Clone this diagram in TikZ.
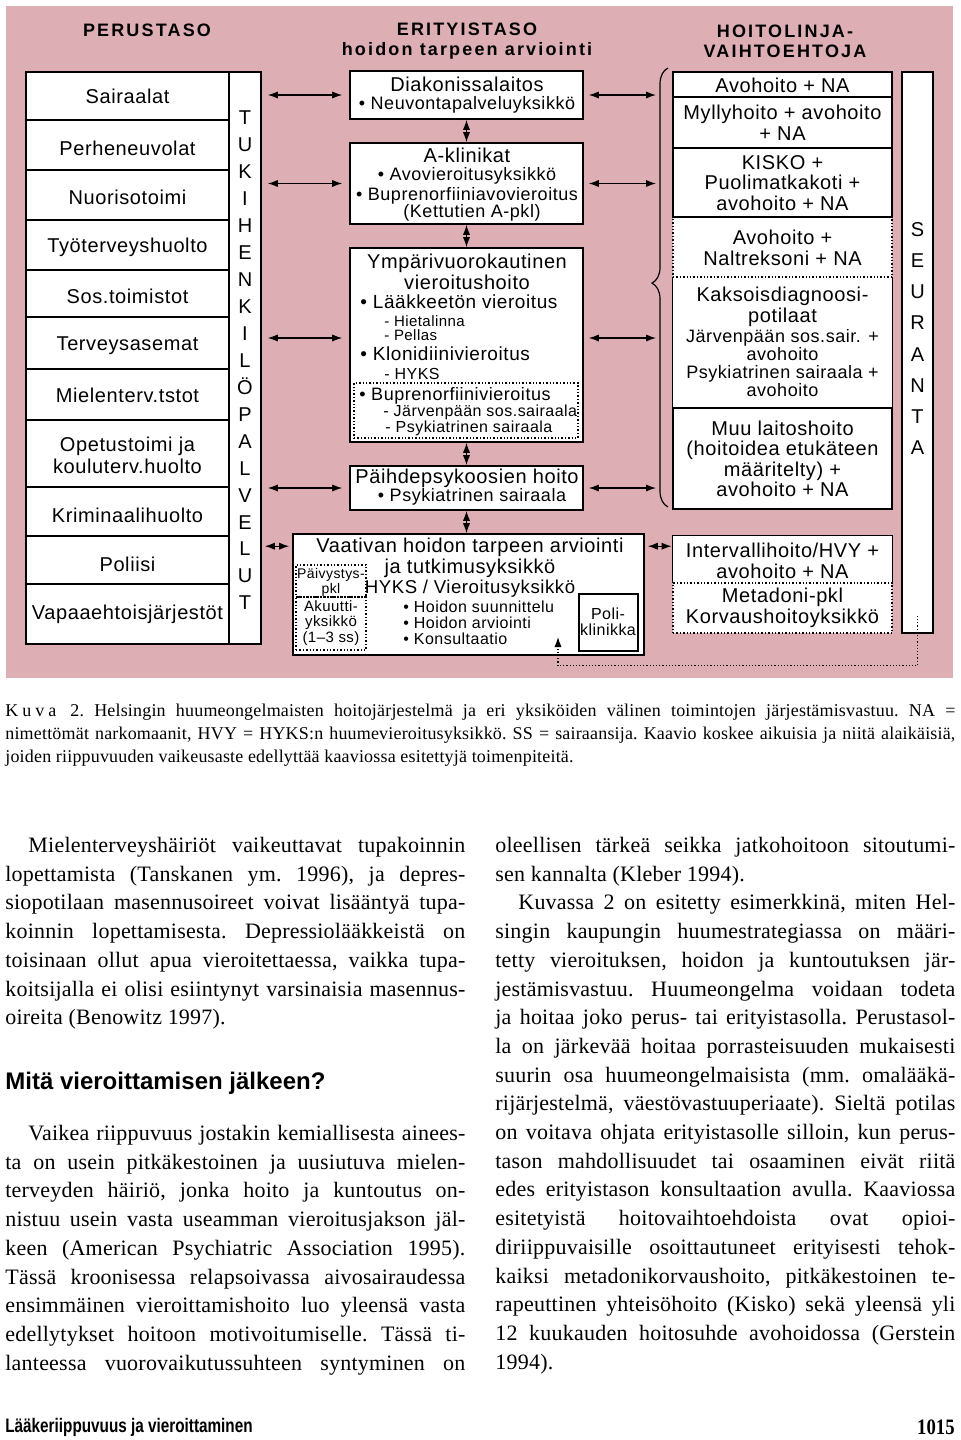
\documentclass[tikz,border=0pt]{standalone}
\usepackage{fontspec}
\setmainfont[LetterSpace=1]{Liberation Serif}
\newfontfamily\dfont[LetterSpace=3]{Liberation Sans}
\newfontfamily\hfont[LetterSpace=12]{Liberation Sans}
\newfontfamily\gfont{Liberation Sans}
\newfontfamily\cfont[FakeStretch=0.78]{Liberation Sans}
\newfontfamily\nfont[FakeStretch=0.85]{Liberation Serif}
\usetikzlibrary{calc, fit, positioning, arrows.meta, decorations.pathreplacing}
\definecolor{rosa}{RGB}{221,175,181}
\tolerance=10000
\hyphenpenalty=10000
\parindent=0pt
\parskip=0pt
\tikzset{
    boxnode/.style = {draw, rectangle, fill=white, inner sep=0pt, line width=0.8pt},
    openbox/.style = {rectangle, fill=white, inner sep=0pt},
    dotbox/.style = {draw, densely dotted, rectangle, inner sep=0pt, line width=0.7pt},
    textnode/.style = {draw=none, fill=none, rectangle, inner sep=0pt, align=center,
      font=\dfont\fontsize{10}{10.25}\selectfont},
    rowtext/.style = {textnode, font=\dfont\fontsize{10}{11}\selectfont},
    subnode/.style = {textnode, font=\dfont\fontsize{9}{9.5}\selectfont},
    tinynode/.style = {textnode, font=\dfont\fontsize{8}{8}\selectfont},
    headnode/.style = {textnode, font=\hfont\bfseries\fontsize{9}{10}\selectfont},
    bodynode/.style = {inner sep=0pt, anchor=north west, text width=230pt, align=justify,
      font=\fontsize{11}{14.35}\selectfont\frenchspacing},
    connect/.style = {<->, line width=0.6pt},
    dotconnect/.style = {->, densely dotted, line width=0.6pt},
    >={Latex[length=5pt, width=3.6pt]}
}

\begin{document}
\begin{tikzpicture}[x=0.5pt, y=-0.5pt]
    \useasboundingbox (0,0) rectangle (960,1440);
    \fill[white] (0,0) rectangle (960,1440);
    \fill[rosa] (6,6) rectangle (953,678);

    % column headers
    \node [name=perus, headnode] at (147,30) {PERUSTASO};
    \node [name=erit, headnode] at (467,41) {ERITYISTASO\\hoidon tarpeen arviointi};
    \node [name=hoito, headnode] at (785,41) {HOITOLINJA-\\VAIHTOEHTOJA};

    % perustaso
    \node [name=r1, boxnode, fit={(26,72) (229,120)}] {};
    \node [name=r2, boxnode, fit={(26,120) (229,170)}] {};
    \node [name=r3, boxnode, fit={(26,170) (229,220)}] {};
    \node [name=r4, boxnode, fit={(26,220) (229,270)}] {};
    \node [name=r5, boxnode, fit={(26,270) (229,317)}] {};
    \node [name=r6, boxnode, fit={(26,317) (229,369)}] {};
    \node [name=r7, boxnode, fit={(26,369) (229,420)}] {};
    \node [name=r8, boxnode, fit={(26,420) (229,487)}] {};
    \node [name=r9, boxnode, fit={(26,487) (229,536)}] {};
    \node [name=r10, boxnode, fit={(26,536) (229,584)}] {};
    \node [name=r11, boxnode, fit={(26,584) (229,644)}] {};
    \node [name=r1T, rowtext] at (127.5,96) {Sairaalat};
    \node [name=r2T, rowtext] at (127.5,148) {Perheneuvolat};
    \node [name=r3T, rowtext] at (127.5,197) {Nuorisotoimi};
    \node [name=r4T, rowtext] at (127.5,247) {Työterveyshuolto};
    \node [name=r5T, rowtext] at (127.5,296) {Sos.toimistot};
    \node [name=r6T, rowtext] at (127.5,346) {Terveysasemat};
    \node [name=r7T, rowtext] at (127.5,395) {Mielenterv.tstot};
    \node [name=r8T, rowtext] at (127.5,455) {Opetustoimi ja\\kouluterv.huolto};
    \node [name=r9T, rowtext] at (127.5,515) {Kriminaalihuolto};
    \node [name=r10T, rowtext] at (127.5,564) {Poliisi};
    \node [name=r11T, rowtext] at (127.5,614) {Vapaaehtoisjärjestöt};
    \node [name=tuki, boxnode, fit={(229,72) (261,644)}] {};
    \node [name=tukiT, textnode, font=\dfont\fontsize{10}{13.47}\selectfont] at (245,360.5)
        {T\\U\\K\\I\\H\\E\\N\\K\\I\\L\\Ö\\P\\A\\L\\V\\E\\L\\U\\T};

    % erityistaso
    \node [name=diak, boxnode, fit={(350,71) (583,119)}] {};
    \node [name=diakT, textnode] at (467,84) {Diakonissalaitos};
    \node [name=diakS, subnode] at (467,105) {• Neuvontapalveluyksikkö};

    \node [name=akl, boxnode, fit={(350,143) (583,224)}] {};
    \node [name=aklT, textnode] at (467,155) {A-klinikat};
    \node [name=aklS1, subnode] at (467,176) {• Avovieroitusyksikkö};
    \node [name=aklS2, subnode] at (467,196) {• Buprenorfiiniavovieroitus};
    \node [name=aklS3, subnode] at (472,213) {(Kettutien A-pkl)};

    \node [name=ymp, boxnode, fit={(350,248) (583,442)}] {};
    \node [name=bupbox, dotbox, fit={(354,383) (578,438)}] {};
    \node [name=ympT, textnode] at (467,272) {Ympärivuorokautinen\\vieroitushoito};
    \node [name=laak, subnode, anchor=west, font=\dfont\fontsize{9.5}{10}\selectfont] at (360,302) {• Lääkkeetön vieroitus};
    \node [name=hiet, tinynode, anchor=west, font=\dfont\fontsize{7.5}{7}\selectfont] at (384,321) {- Hietalinna};
    \node [name=pell, tinynode, anchor=west, font=\dfont\fontsize{7.5}{7}\selectfont] at (384,335) {- Pellas};
    \node [name=klon, subnode, anchor=west, font=\dfont\fontsize{9.5}{10}\selectfont] at (360,354) {• Klonidiinivieroitus};
    \node [name=hyks, tinynode, anchor=west] at (384,374) {- HYKS};
    \node [name=bupr, subnode, anchor=west] at (359,396) {• Buprenorfiinivieroitus};
    \node [name=jarv, tinynode, anchor=west] at (383,412) {- Järvenpään sos.sairaala};
    \node [name=psyk, tinynode, anchor=west] at (385,428) {- Psykiatrinen sairaala};

    \node [name=paih, boxnode, fit={(350,466) (583,510)}] {};
    \node [name=paihT, textnode] at (467,478) {Päihdepsykoosien hoito};
    \node [name=paihS, subnode] at (472,497) {• Psykiatrinen sairaala};

    \node [name=vaat, boxnode, fit={(293,534) (644,655)}] {};
    \node [name=vaatT, textnode] at (470,558) {Vaativan hoidon tarpeen arviointi\\ja tutkimusyksikkö};
    \node [name=vaatS, textnode, font=\dfont\fontsize{9.3}{10}\selectfont] at (470,589) {HYKS / Vieroitusyksikkö};
    \node [name=pvk, dotbox, fit={(296,565) (366,597)}] {};
    \node [name=aku, dotbox, fit={(296,597) (366,650)}] {};
    \node [name=pvkT, tinynode, font=\dfont\fontsize{7}{7.5}\selectfont] at (331,582) {Päivystys-\\pkl};
    \node [name=akuT, tinynode, font=\dfont\fontsize{7.5}{7.9}\selectfont] at (331,623) {Akuutti-\\yksikkö\\(1–3 ss)};
    \node [name=poli, boxnode, line width=0.7pt, fit={(579,594) (638,651)}] {};
    \node [name=poliT, tinynode] at (608,622) {Poli-\\klinikka};
    \node [name=hsuun, tinynode, anchor=west] at (403,607) {• Hoidon suunnittelu};
    \node [name=harv, tinynode, anchor=west] at (403,623) {• Hoidon arviointi};
    \node [name=kons, tinynode, anchor=west] at (403,639) {• Konsultaatio};

    % hoitolinjat
    \node [name=avo1, boxnode, fit={(673,72) (892,97)}] {};
    \node [name=mylly, boxnode, fit={(673,97) (892,148)}] {};
    \node [name=kaks, openbox, fit={(673,277) (892,408)}] {};
    \draw [line width=0.8pt] (kaks.north west) -- (kaks.south west) -- (kaks.south east) -- (kaks.north east);
    \node [name=muu, boxnode, fit={(673,408) (892,509)}] {};
    \node [name=nalt, dotbox, fill=white, fit={(673,217) (892,277)}] {};
    \node [name=kisko, boxnode, fit={(673,148) (892,217)}] {};
    \node [name=intv, openbox, fit={(673,536) (892,583)}] {};
    \draw [line width=0.8pt] (intv.south west) -- (intv.north west) -- (intv.north east) -- (intv.south east);
    \node [name=meta, dotbox, fill=white, fit={(673,583) (892,633)}] {};

    \node [name=avo1T, textnode] at (782.5,85) {Avohoito + NA};
    \node [name=myllyT, textnode] at (782.5,123) {Myllyhoito + avohoito\\+ NA};
    \node [name=kiskoT, textnode] at (782.5,183) {KISKO +\\Puolimatkakoti +\\avohoito + NA};
    \node [name=naltT, textnode] at (782.5,248) {Avohoito +\\Naltreksoni + NA};
    \node [name=kaksT, textnode] at (782.5,307) {Kaksoisdiagnoosi-\\potilaat};
    \node [name=kaksS, subnode, font=\dfont\fontsize{9}{9}\selectfont] at (782.5,363)
        {Järvenpään sos.sair. +\\avohoito\\Psykiatrinen sairaala +\\avohoito};
    \node [name=muuT, textnode] at (782.5,459) {Muu laitoshoito\\(hoitoidea etukäteen\\määritelty) +\\avohoito + NA};
    \node [name=intvT, textnode] at (782.5,561) {Intervallihoito/HVY +\\avohoito + NA};
    \node [name=metaT, textnode] at (782.5,608) {Metadoni-pkl\\Korvaushoitoyksikkö};

    \node [name=seur, boxnode, fit={(902,72) (933,633)}] {};
    \node [name=seurT, textnode, font=\dfont\fontsize{10}{15.64}\selectfont] at (917.5,338.5)
        {S\\E\\U\\R\\A\\N\\T\\A};

    % brace and connectors
    \draw [decorate, decoration={brace, amplitude=8pt, aspect=0.51}, line width=0.6pt] (668,507) -- (668,68);
    \coordinate (brc) at (656,0);
    \coordinate (ya) at ([yshift=3.5pt]ymp.west);
    \coordinate (yb) at ([yshift=3.5pt]ymp.east);
    \coordinate (yv) at ($(vaat.north west)+(0,13)$);
    \coordinate (tip) at (558,637);

    \draw [connect, shorten <=3pt, shorten >=3.5pt] (tuki.east |- diak.west) -- (diak.west);
    \draw [connect, shorten <=3pt, shorten >=3.5pt] (tuki.east |- akl.west) -- (akl.west);
    \draw [connect, shorten <=3pt, shorten >=3.5pt] (tuki.east |- ya) -- (ya);
    \draw [connect, shorten <=3pt, shorten >=3.5pt] (tuki.east |- paih.west) -- (paih.west);
    \draw [connect, shorten <=1.5pt, shorten >=1.5pt] (tuki.east |- yv) -- (yv);

    \draw [connect, shorten <=2.5pt] (diak.east) -- (brc |- diak.east);
    \draw [connect, shorten <=2.5pt] (akl.east) -- (brc |- akl.east);
    \draw [connect, shorten <=2.5pt] (yb) -- (brc |- yb);
    \draw [connect, shorten <=2.5pt] (paih.east) -- (brc |- paih.east);
    \draw [connect, shorten <=1.5pt, shorten >=0.5pt] (vaat.east |- yv) -- (intv.west |- yv);

    \draw [connect] (diak.south) -- (akl.north);
    \draw [connect] (akl.south) -- (ymp.north);
    \draw [connect] (ymp.south) -- (paih.north);
    \draw [connect] (paih.south) -- (paih.south |- vaat.north);

    \draw [dotconnect] ([yshift=9pt]seur.south) -- ([yshift=-16pt]seur.south) -| (tip);

    % caption and text
    \node [name=caption, bodynode, text width=475pt, font=\fontsize{9}{11.5}\selectfont\frenchspacing] at (5,700)
        {\strut K\kern2pt u\kern2pt v\kern2pt a\kern7pt 2. Helsingin huumeongelmaisten hoitojärjestelmä ja eri yksiköiden välinen toimintojen järjestämisvastuu. NA =\linebreak nimettömät narkomaanit, HVY = HYKS:n huumevieroitusyksikkö. SS = sairaansija. Kaavio koskee aikuisia ja niitä alaikäisiä,\linebreak joiden riippuvuuden vaikeusaste edellyttää kaaviossa esitettyjä toimenpiteitä.};

    \node [name=para1, bodynode] at (5,832)
        {\strut\hspace*{11.5pt}Mielenterveyshäiriöt vaikeuttavat tupakoinnin\linebreak lopettamista (Tanskanen ym. 1996), ja depres-\linebreak siopotilaan masennusoireet voivat lisääntyä tupa-\linebreak koinnin lopettamisesta. Depressiolääkkeistä on\linebreak toisinaan ollut apua vieroitettaessa, vaikka tupa-\linebreak koitsijalla ei olisi esiintynyt varsinaisia masennus-\linebreak oireita (Benowitz 1997).};

    \node [name=heading, anchor=west, inner sep=0pt, font=\gfont\bfseries\fontsize{12}{13}\selectfont] at (5,1083)
        {Mitä vieroittamisen jälkeen?};

    \node [name=para2, bodynode] at (5,1120)
        {\parfillskip=0pt\strut\hspace*{11.5pt}Vaikea riippuvuus jostakin kemiallisesta ainees-\linebreak ta on usein pitkäkestoinen ja uusiutuva mielen-\linebreak terveyden häiriö, jonka hoito ja kuntoutus on-\linebreak nistuu usein vasta useamman vieroitusjakson jäl-\linebreak keen (American Psychiatric Association 1995).\linebreak Tässä kroonisessa relapsoivassa aivosairaudessa\linebreak ensimmäinen vieroittamishoito luo yleensä vasta\linebreak edellytykset hoitoon motivoitumiselle. Tässä ti-\linebreak lanteessa vuorovaikutussuhteen syntyminen on\par};

    \node [name=para3, bodynode] at (495,832)
        {\strut oleellisen tärkeä seikka jatkohoitoon sitoutumi-\linebreak sen kannalta (Kleber 1994).\par
        \hspace*{11.5pt}Kuvassa 2 on esitetty esimerkkinä, miten Hel-\linebreak singin kaupungin huumestrategiassa on määri-\linebreak tetty vieroituksen, hoidon ja kuntoutuksen jär-\linebreak jestämisvastuu. Huumeongelma voidaan todeta\linebreak ja hoitaa joko perus- tai erityistasolla. Perustasol-\linebreak la on järkevää hoitaa porrasteisuuden mukaisesti\linebreak suurin osa huumeongelmaisista (mm. omalääkä-\linebreak rijärjestelmä, väestövastuuperiaate). Sieltä potilas\linebreak on voitava ohjata erityistasolle silloin, kun perus-\linebreak tason mahdollisuudet tai osaaminen eivät riitä\linebreak edes erityistason konsultaation avulla. Kaaviossa\linebreak esitetyistä hoitovaihtoehdoista ovat opioi-\linebreak diriippuvaisille osoittautuneet erityisesti tehok-\linebreak kaiksi metadonikorvaushoito, pitkäkestoinen te-\linebreak rapeuttinen yhteisöhoito (Kisko) sekä yleensä yli\linebreak 12 kuukauden hoitosuhde avohoidossa (Gerstein\linebreak 1994).};

    \node [name=foot, anchor=west, inner sep=0pt, font=\cfont\bfseries\fontsize{9.8}{10}\selectfont] at (5,1427)
        {Lääkeriippuvuus ja vieroittaminen};
    \node [name=pageno, anchor=east, inner sep=0pt, font=\nfont\bfseries\fontsize{11}{12}\selectfont] at (955,1427)
        {1015};
\end{tikzpicture}
\end{document}
